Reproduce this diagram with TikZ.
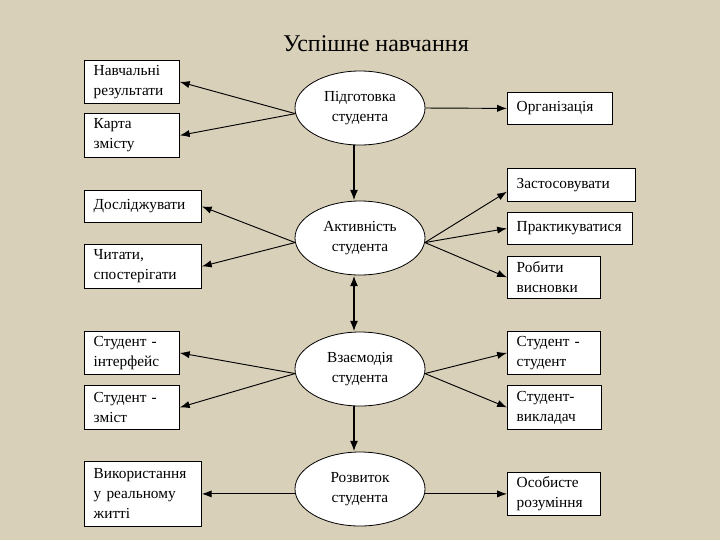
\documentclass[tikz,border=0pt]{standalone}
\usepackage{fontspec}
\setmainfont{Liberation Serif}
\usetikzlibrary{arrows.meta, shapes.geometric}
\definecolor{paper}{RGB}{217,208,185}

\begin{document}
\begin{tikzpicture}[x=0.75pt,y=-0.75pt,
    font=\fontsize{11.5}{15}\selectfont,
    stage/.style={draw,ellipse,fill=white,line width=0.6pt,minimum width=97.5pt,minimum height=55.5pt,inner sep=0pt,align=center},
    box/.style={draw,fill=white,line width=0.6pt,anchor=north west,align=left,inner xsep=7pt,inner ysep=2pt},
    arr/.style={->,>={Latex[length=2.6mm,width=1.9mm]},line width=0.7pt},
    flow/.style={>={Latex[length=2.8mm,width=2.1mm]},line width=1.4pt}]
    % Background
    \fill[paper] (0,0) rectangle (720,540);
    \useasboundingbox (0,0) rectangle (720,540);
    \node[font=\fontsize{18}{22}\selectfont] (title) at (376,44) {Успішне навчання};
    % Stages
    \node[stage] (prep)  at (360,108) {Підготовка\\студента};
    \node[stage] (act)   at (360,238) {Активність\\студента};
    \node[stage] (inter) at (360,369) {Взаємодія\\студента};
    \node[stage] (dev)   at (360,489) {Розвиток\\студента};
    % Left boxes
    \node[box,text width=57.25pt,minimum height=32.25pt] (res)  at (84,60)  {Навчальні\\результати};
    \node[box,text width=57.25pt,minimum height=33pt]    (map)  at (84,113) {Карта\\змісту};
    \node[box,text width=73.75pt,minimum height=24pt]    (expl) at (84,190) {Досліджувати};
    \node[box,text width=73.75pt,minimum height=33pt]    (read) at (84,244) {Читати,\\спостерігати};
    \node[box,text width=57.25pt,minimum height=32.25pt] (intf) at (84,331) {Студент -\\інтерфейс};
    \node[box,text width=57.25pt,minimum height=33pt]    (cont) at (84,385) {Студент -\\зміст};
    \node[box,text width=73.75pt,minimum height=48.75pt] (use)  at (84,461) {Використання\\у реальному\\житті};
    % Right boxes
    \node[box,text width=64.75pt,minimum height=24pt]    (org)   at (507,92)  {Організація};
    \node[box,text width=82pt,minimum height=24.75pt]    (appl)  at (507,168) {Застосовувати};
    \node[box,text width=79.75pt,minimum height=24pt]    (prac)  at (507,212) {Практикуватися};
    \node[box,text width=55.75pt,minimum height=31.5pt]  (concl) at (507,256) {Робити\\висновки};
    \node[box,text width=55.75pt,minimum height=32.25pt] (stst)  at (507,331) {Студент -\\студент};
    \node[box,text width=56.5pt,minimum height=33pt]     (stte)  at (507,385) {Студент-\\викладач};
    \node[box,text width=55.75pt,minimum height=32.25pt] (pers)  at (507,472) {Особисте\\розуміння};
    % Main flow
    \draw[flow,->]  ([xshift=-4.5pt]prep.south)  -- ([xshift=-4.5pt]act.north);
    \draw[flow,<->] ([xshift=-4.5pt]act.south)   -- ([xshift=-4.5pt]inter.north);
    \draw[flow,->]  ([xshift=-4.5pt]inter.south) -- ([xshift=-4.5pt]dev.north);
    % Branches
    \draw[arr] (prep.185) -- (res.east);
    \draw[arr] (prep.185) -- (map.east);
    \draw[arr] (prep.east) -- (org.west);
    \draw[arr] (act.184) -- (expl.east);
    \draw[arr] (act.184) -- (read.east);
    \draw[arr] (act.356) -- (appl.186);
    \draw[arr] (act.356) -- (prac.west);
    \draw[arr] (act.356) -- (concl.west);
    \draw[arr] (inter.184) -- (intf.east);
    \draw[arr] (inter.184) -- (cont.east);
    \draw[arr] (inter.356) -- (stst.west);
    \draw[arr] (inter.356) -- (stte.west);
    \draw[arr] (dev.west |- use.east) -- (use.east);
    \draw[arr] (dev.east |- pers.west) -- (pers.west);
\end{tikzpicture}
\end{document}
